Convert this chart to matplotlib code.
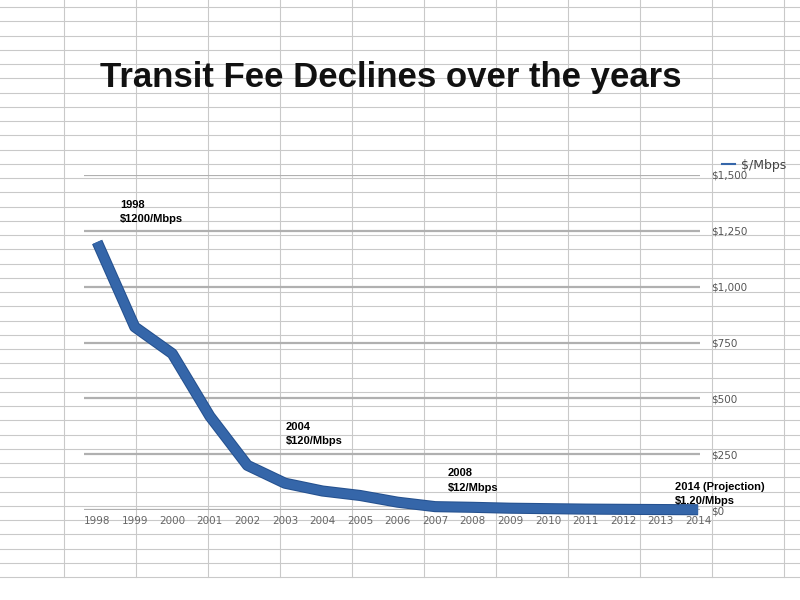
import matplotlib
matplotlib.use("Agg")
import matplotlib.pyplot as plt
import matplotlib.patheffects as pe
from matplotlib.lines import Line2D

# data
years = list(range(1998, 2015))
price = [1200, 820, 700, 420, 200, 120, 85, 65, 35, 15, 12, 8, 6, 4, 3, 2, 1.2]
y_ticks = [0, 250, 500, 750, 1000, 1250, 1500]
y_labels = ["$0", "$250", "$500", "$750", "$1,000", "$1,250", "$1,500"]

notes = ["1998\n$1200/Mbps", "2004\n$120/Mbps", "2008\n$12/Mbps",
         "2014 (Projection)\n$1.20/Mbps"]
note_years = [1998, 2004, 2008, 2014]
note_offsets = [(23, 30), (-37, 57), (-25, 27), (-23, 16)]  # pixels

W, H = 800, 600
fig = plt.figure(figsize=(8, 6), dpi=100)
fig.patch.set_facecolor("white")

# spreadsheet grid in the background
grid_c = "#c9c9c9"
for k in range(41):
    y = 7 + 14.25 * k
    fig.add_artist(Line2D([0, 1], [1 - y / H] * 2, color=grid_c, lw=0.8, zorder=0))
for k in range(11):
    x = 64 + 72 * k
    fig.add_artist(Line2D([x / W] * 2, [1, 1 - 577 / H], color=grid_c, lw=0.8, zorder=0))

# chart area
left, right, top, bottom = 84, 700, 175, 510
ax = fig.add_axes([left / W, 1 - bottom / H, (right - left) / W, (bottom - top) / H])
ax.set_facecolor("none")
ax.set_xlim(1997.65, 2014.05)
ax.set_ylim(0, 1500)

for v in y_ticks:
    ax.axhline(v, color="#b0b0b0", lw=1.6, zorder=1)

ax.plot(years, price, color="#3566a9", lw=6.5, solid_joinstyle="round",
        solid_capstyle="butt", clip_on=False, zorder=3, label="$/Mbps",
        path_effects=[pe.Stroke(linewidth=8, foreground="#25518f"), pe.Normal()])

ax.set_xticks(years)
ax.set_xticklabels([str(y) for y in years])
ax.set_yticks(y_ticks)
ax.set_yticklabels(y_labels)
ax.yaxis.tick_right()
ax.tick_params(axis="x", length=0, pad=4, labelsize=7.5, labelcolor="#666666")
ax.tick_params(axis="y", length=0, pad=8, labelsize=7.5, labelcolor="#555555")
for s in ax.spines.values():
    s.set_visible(False)

for txt, yr, off in zip(notes, note_years, note_offsets):
    ax.annotate(txt, xy=(yr, price[years.index(yr)]), xytext=off,
                textcoords="offset pixels", ha="left", va="center",
                fontsize=8, fontweight="bold", family="Liberation Sans",
                linespacing=1.55, color="black", zorder=5)

leg = ax.legend(handles=[Line2D([0], [0], color="#3566a9", lw=1.5)], labels=["$/Mbps"],
                loc="center left", bbox_to_anchor=(722 / W, 1 - 165 / H),
                bbox_transform=fig.transFigure, frameon=False, fontsize=9,
                handlelength=1.0, handletextpad=0.5, borderaxespad=0, borderpad=0)
for t in leg.get_texts():
    t.set_color("#444444")

fig.text(391 / W, 1 - 78 / H, "Transit Fee Declines over the years",
         ha="center", va="center", fontsize=25, fontweight="bold",
         family="Liberation Sans", color="#111111")

fig.savefig("out.png", dpi=100)
